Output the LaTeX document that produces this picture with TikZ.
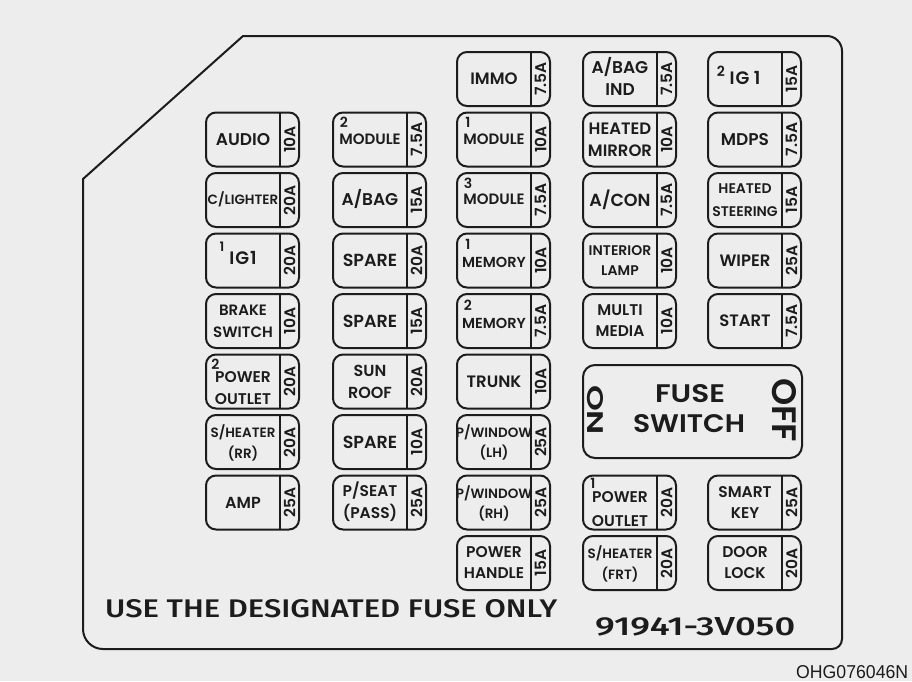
\documentclass[tikz,border=0pt]{standalone}
\usepackage{fontspec}
\usepackage{graphicx}
\newfontfamily\pop{Poppins SemiBold}
\newfontfamily\din{Fira Sans Medium}
\newfontfamily\ari{Liberation Sans}
\definecolor{bg}{RGB}{237,237,237}
\definecolor{ink}{RGB}{28,28,28}
\newcommand\fz[1]{\pop\fontsize{#1}{#1}\selectfont}
\tikzset{
 fusebox/.style={draw=ink, line width=2pt, rounded corners=10pt, minimum width=93pt, minimum height=54pt, inner sep=0pt, outer sep=0pt},
 divline/.style={draw=ink, line width=2pt},
 txt/.style={anchor=base, inner sep=0pt, text=ink},
 ampl/.style={rotate=90, inner sep=0pt, text=ink, font=\fz{15.5}},
 outline/.style={draw=ink, line width=2pt, line join=round},
}
% name, left x, row, amp
\newcommand\fuse[4]{%
 \node[fusebox] (#1) at ({#2+46.5},{52+60.5*#3+27}) {};
 \draw[divline] ([xshift=27.5pt,yshift=27pt]#1.center) -- ([xshift=27.5pt,yshift=-27pt]#1.center);
 \node[ampl] (#1-a) at ([xshift=37pt]#1.center) {#4};
 \coordinate (#1-c) at ([xshift=-9.5pt]#1.center);
}
% name, id, offset (down), size, text
\newcommand\lbl[5]{\node[txt,font=\fz{#4}] (#1-#2) at ([yshift={-(#3)-0.35*(#4)}]#1-c) {#5};}
% name, dx, dy (down), size, text
\newcommand\supn[5]{\node[inner sep=0pt,text=ink,font=\fz{#4}] (#1-s) at ([xshift=#2pt,yshift={-(#3)}]#1.center) {#5};}
\begin{document}
\begin{tikzpicture}[x=1pt,y=-1pt]
\fill[bg] (0,0) rectangle (912,681);
\useasboundingbox (0,0) rectangle (912,681);
\coordinate (o1) at (243,36);
\coordinate (o2) at (83,179);
\draw[outline] (o1) -- (827,36) .. controls (835.28,36) and (842,42.72) .. (842,51)
  -- (842,639) .. controls (842,644.52) and (837.52,649) .. (832,649)
  -- (103,649) .. controls (91.95,649) and (83,640.05) .. (83,629)
  -- (o2) -- cycle;

% column 1
\fuse{audio}{206}{1}{10A} \lbl{audio}{t}{0}{17}{AUDIO}
\fuse{clig}{206}{2}{20A} \lbl{clig}{t}{0}{13.5}{C/LIGHTER}
\fuse{igone}{206}{3}{20A} \lbl{igone}{t}{-2}{18}{I\kern1pt G\kern1pt 1} \supn{igone}{-30.5}{-13.5}{13}{1}
\fuse{brake}{206}{4}{10A} \lbl{brake}{t}{-11}{15}{BRAKE} \lbl{brake}{b}{11}{15}{SWITCH}
\fuse{pouttwo}{206}{5}{20A} \supn{pouttwo}{-37}{-17}{14}{2} \lbl{pouttwo}{t}{-4}{15.5}{POWER} \lbl{pouttwo}{b}{18}{15.5}{OUTLET}
\fuse{shrr}{206}{6}{20A} \lbl{shrr}{t}{-9.5}{13.5}{S/HEATER} \lbl{shrr}{b}{11.5}{13.5}{(RR)}
\fuse{amp}{206}{7}{25A} \lbl{amp}{t}{0}{16}{AMP}

% column 2
\fuse{modtwo}{333}{1}{7.5A} \supn{modtwo}{-35.5}{-17}{14}{2} \lbl{modtwo}{t}{-0.5}{15}{MODULE}
\fuse{abag}{333}{2}{15A} \lbl{abag}{t}{0}{17}{A/BAG}
\fuse{spa}{333}{3}{20A} \lbl{spa}{t}{0}{17.5}{SPARE}
\fuse{spb}{333}{4}{15A} \lbl{spb}{t}{0}{17.5}{SPARE}
\fuse{sun}{333}{5}{20A} \lbl{sun}{t}{-11}{16}{SUN} \lbl{sun}{b}{11}{16}{ROOF}
\fuse{spc}{333}{6}{10A} \lbl{spc}{t}{0}{17.5}{SPARE}
\fuse{pseat}{333}{7}{25A} \lbl{pseat}{t}{-11.5}{15.5}{P/SEAT} \lbl{pseat}{b}{11}{15.5}{(PASS)}

% column 3
\fuse{immo}{457}{0}{7.5A} \lbl{immo}{t}{0}{16.5}{IMMO}
\fuse{modone}{457}{1}{10A} \supn{modone}{-35.5}{-17}{14}{1} \lbl{modone}{t}{-0.5}{15}{MODULE}
\fuse{modthree}{457}{2}{7.5A} \supn{modthree}{-35.5}{-17}{14}{3} \lbl{modthree}{t}{-0.5}{15}{MODULE}
\fuse{memone}{457}{3}{10A} \supn{memone}{-35.5}{-16}{14}{1} \lbl{memone}{t}{2}{14.5}{MEMORY}
\fuse{memtwo}{457}{4}{7.5A} \supn{memtwo}{-35.5}{-16}{14}{2} \lbl{memtwo}{t}{2}{14.5}{MEMORY}
\fuse{trunk}{457}{5}{10A} \lbl{trunk}{t}{0}{16.5}{TRUNK}
\fuse{pwl}{457}{6}{25A} \lbl{pwl}{t}{-9}{13.5}{P/WINDOW} \lbl{pwl}{b}{11}{13.5}{(LH)}
\fuse{pwr}{457}{7}{25A} \lbl{pwr}{t}{-9}{13.5}{P/WINDOW} \lbl{pwr}{b}{11}{13.5}{(RH)}
\fuse{phandle}{457}{8}{15A} \lbl{phandle}{t}{-10.5}{15.5}{POWER} \lbl{phandle}{b}{10.5}{15.5}{HANDLE}

% column 4
\fuse{abagind}{583}{0}{7.5A} \lbl{abagind}{t}{-11}{17}{A/BAG} \lbl{abagind}{b}{11}{17}{IND}
\fuse{hmir}{583}{1}{10A} \lbl{hmir}{t}{-11}{16.5}{HEATED} \lbl{hmir}{b}{11}{16.5}{MIRROR}
\fuse{acon}{583}{2}{7.5A} \lbl{acon}{t}{0}{17.5}{A/CON}
\fuse{ilamp}{583}{3}{10A} \lbl{ilamp}{t}{-10}{14}{INTERIOR} \lbl{ilamp}{b}{10}{14}{LAMP}
\fuse{mmedia}{583}{4}{10A} \lbl{mmedia}{t}{-10.5}{15.5}{MULTI} \lbl{mmedia}{b}{10.5}{15.5}{MEDIA}
\fuse{poutone}{583}{7}{20A} \supn{poutone}{-36.5}{-19}{14}{1} \lbl{poutone}{t}{-5.5}{15.5}{POWER} \lbl{poutone}{b}{18.5}{15.5}{OUTLET}
\fuse{shfrt}{583}{8}{20A} \lbl{shfrt}{t}{-9.5}{13.5}{S/HEATER} \lbl{shfrt}{b}{11.5}{13.5}{(FRT)}

% column 5
\fuse{igtwo}{708}{0}{15A} \supn{igtwo}{-33.5}{-8}{14}{2} \lbl{igtwo}{t}{-0.5}{18}{I\kern1pt G 1}
\fuse{mdps}{708}{1}{7.5A} \lbl{mdps}{t}{0}{17}{MDPS}
\fuse{hsteer}{708}{2}{15A} \lbl{hsteer}{t}{-11.5}{14}{HEATED} \lbl{hsteer}{b}{11.5}{14}{STEERING}
\fuse{wiper}{708}{3}{25A} \lbl{wiper}{t}{0}{16.5}{WIPER}
\fuse{start}{708}{4}{7.5A} \lbl{start}{t}{0}{16.5}{START}
\fuse{smart}{708}{7}{25A} \lbl{smart}{t}{-10.5}{15.5}{SMART} \lbl{smart}{b}{10.5}{15.5}{KEY}
\fuse{door}{708}{8}{20A} \lbl{door}{t}{-10.5}{15.5}{DOOR} \lbl{door}{b}{10.5}{15.5}{LOCK}

% fuse switch
\node[draw=ink, line width=2pt, rounded corners=12pt, minimum width=219pt, minimum height=93pt, inner sep=0pt] (fsw) at (692.5,411.5) {};
\node[inner sep=0pt, text=ink] (fsw-f) at (690,394) {\resizebox{70pt}{18pt}{\pop FUSE}};
\node[inner sep=0pt, text=ink] (fsw-s) at (689,424) {\resizebox{112pt}{18pt}{\pop SWITCH}};
\node[inner sep=0pt, text=ink, rotate=-90] (fsw-on) at (595,410) {\resizebox{50pt}{16pt}{\pop ON}};
\node[inner sep=0pt, text=ink, rotate=-90] (fsw-off) at (784.5,410) {\resizebox{64pt}{24pt}{\pop OFF}};

% bottom texts
\node[anchor=base west, inner sep=0pt, text=ink] (use) at (105,617) {\resizebox{452pt}{18pt}{\din USE THE DESIGNATED FUSE ONLY}};
\node[anchor=base west, inner sep=0pt, text=ink] (pn) at (595,635) {\resizebox{200pt}{18pt}{\din 91941-3V050}};
\node[anchor=base west, inner sep=0pt, text=ink] (code) at (796,678) {\resizebox{112pt}{13pt}{\ari OHG076046N}};
\end{tikzpicture}
\end{document}
